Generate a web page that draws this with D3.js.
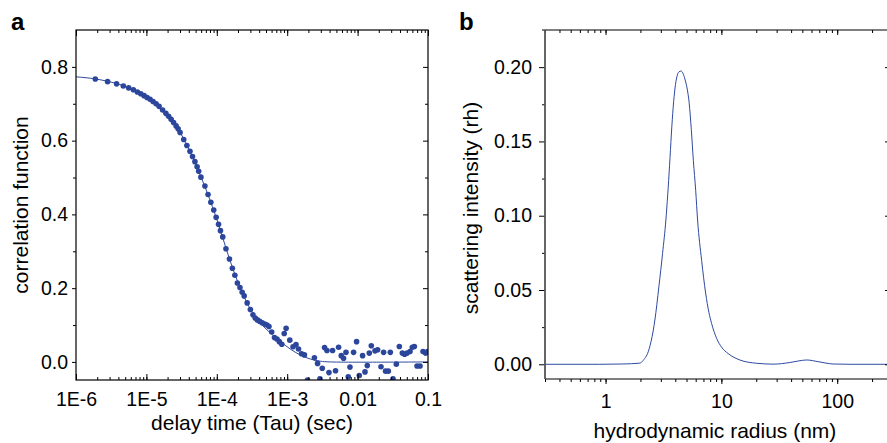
<!DOCTYPE html>
<html>
<head>
<meta charset="utf-8">
<script src="https://cdn.jsdelivr.net/npm/d3@7"></script>
<style>
  body { margin: 0; background: #fff; }
  svg { display: block; font-family: "Liberation Sans", Arial, Helvetica, sans-serif; }
  .tick text { font-size: 19.5px; fill: #000; }
  .title { font-size: 21px; fill: #000; }
  .panel { font-size: 24px; font-weight: bold; }
</style>
</head>
<body>
<div id="chart"></div>
<script>
var width = 887;
var height = 443;
var dotColor = "#2c469b";
var lineColor = "#2e4aa0";

// panel a: measured correlation function
var tauA = [1.88e-6, 2.81e-6, 3.77e-6, 4.70e-6, 5.60e-6, 6.53e-6, 7.44e-6, 8.32e-6, 9.27e-6, 1.022e-5,
  1.128e-5, 1.244e-5, 1.373e-5, 1.514e-5, 1.698e-5, 1.891e-5, 2.066e-5, 2.243e-5, 2.433e-5, 2.642e-5,
  2.82e-5, 3.01e-5, 3.39e-5, 3.76e-5, 4.16e-5, 4.52e-5, 4.89e-5, 5.25e-5, 5.53e-5, 5.95e-5,
  6.78e-5, 7.51e-5, 8.23e-5, 9.05e-5, 9.79e-5, 1.059e-4, 1.127e-4, 1.215e-4, 1.349e-4, 1.512e-4,
  1.663e-4, 1.805e-4, 1.959e-4, 2.133e-4, 2.293e-4, 2.447e-4, 2.70e-4, 3.00e-4, 3.265e-4, 3.51e-4,
  3.77e-4, 4.06e-4, 4.41e-4, 4.79e-4, 5.16e-4, 5.51e-4, 6.02e-4, 6.60e-4, 7.16e-4, 7.72e-4,
  8.38e-4, 9.07e-4, 9.65e-4, 1.089e-3, 1.21e-3, 1.334e-3, 1.448e-3, 1.597e-3, 1.757e-3, 1.944e-3,
  2.436e-3, 2.70e-3, 2.918e-3, 3.148e-3, 3.393e-3, 3.67e-3, 3.918e-3, 4.41e-3, 4.86e-3, 5.37e-3,
  5.86e-3, 6.32e-3, 6.84e-3, 7.37e-3, 7.79e-3, 8.77e-3, 9.67e-3, 1.057e-2, 1.177e-2, 1.274e-2,
  1.373e-2, 1.466e-2, 1.565e-2, 1.767e-2, 1.924e-2, 2.150e-2, 2.341e-2, 2.499e-2, 2.730e-2, 2.916e-2,
  3.184e-2, 3.548e-2, 3.914e-2, 4.318e-2, 4.656e-2, 5.036e-2, 5.556e-2, 5.99e-2, 6.40e-2, 6.99e-2,
  7.71e-2, 8.50e-2, 9.26e-2, 9.89e-2];
var corrA = [0.767, 0.760, 0.754, 0.748, 0.743, 0.738, 0.732, 0.727, 0.722, 0.717,
  0.712, 0.706, 0.700, 0.693, 0.683, 0.674, 0.666, 0.658, 0.649, 0.640,
  0.632, 0.622, 0.603, 0.587, 0.571, 0.557, 0.543, 0.529, 0.517, 0.501,
  0.477, 0.454, 0.433, 0.412, 0.392, 0.373, 0.356, 0.339, 0.307, 0.279,
  0.254, 0.235, 0.214, 0.202, 0.189, 0.179, 0.160, 0.142, 0.128, 0.119,
  0.114, 0.110, 0.106, 0.103, 0.100, 0.096, 0.081, 0.066, 0.062, 0.055,
  0.048, 0.077, 0.091, 0.059, 0.041, 0.047, 0.035, 0.022, 0.019, -0.049,
  0.011, -0.004, -0.046, -0.017, 0.039, 0.031, -0.029, 0.031, -0.024, 0.040,
  0.017, 0.010, 0.026, -0.040, -0.014, 0.026, 0.055, -0.037, 0.017, -0.027,
  -0.010, 0.024, 0.044, 0.030, 0.033, -0.013, 0.026, -0.025, -0.025, 0.026,
  -0.046, -0.006, 0.042, 0.024, 0.021, 0.024, 0.028, 0.040, 0.042, -0.011,
  -0.011, 0.028, 0.024, 0.028];

// panel a: fitted curve
var fitTau = [1e-6, 1.86e-6, 4.22e-6, 8.13e-6, 1.564e-5, 3.01e-5, 5.80e-5, 9.79e-5, 1.547e-4, 2.147e-4,
  2.98e-4, 4.13e-4, 5.73e-4, 7.95e-4, 1.104e-3, 1.531e-3, 2.124e-3, 2.946e-3, 4.09e-3, 0.1];
var fitCorr = [0.773, 0.7675, 0.752, 0.728, 0.690, 0.622, 0.507, 0.392, 0.274, 0.201,
  0.144, 0.106, 0.079, 0.056, 0.035, 0.019, 0.008, 0.002, 0.0, 0.0];

// panel b: size distribution
var radiusB = [0.3, 0.893, 1.41, 1.978, 2.112, 2.38, 2.576, 2.666, 2.886, 3.107,
  3.317, 3.44, 3.57, 3.7, 3.836, 3.98, 4.128, 4.3, 4.47, 4.65,
  4.84, 5.05, 5.27, 5.5, 5.73, 6.0, 6.23, 6.75, 7.31, 7.8,
  8.23, 9.09, 10.04, 11.45, 14.44, 20.1, 28.0, 39.0, 46.0, 54.4,
  68.1, 80.0, 91.8, 128.8, 300];
var intensityB = [0, 0, 0.0002, 0.0008, 0.0026, 0.0104, 0.0224, 0.0298, 0.0522, 0.0747,
  0.0971, 0.114, 0.134, 0.155, 0.173, 0.186, 0.1935, 0.1968, 0.1974, 0.196,
  0.192, 0.186, 0.176, 0.158, 0.137, 0.117, 0.0971, 0.070, 0.048, 0.035,
  0.0275, 0.0175, 0.0115, 0.0072, 0.0029, 0.0007, 0.0001, 0.0012, 0.0022, 0.0029,
  0.0018, 0.0008, 0.0002, 0, 0];

var xLabelsA = ["1E-6", "1E-5", "1E-4", "1E-3", "0.01", "0.1"];
var xTicksA = [1e-6, 1e-5, 1e-4, 1e-3, 0.01, 0.1];
var yTicksA = [0, 0.2, 0.4, 0.6, 0.8];
var xTicksB = [1, 10, 100];
var yTicksB = [0, 0.05, 0.1, 0.15, 0.2];

var svg = d3.select("#chart").append("svg")
  .attr("width", width)
  .attr("height", height);

// log minor ticks
function minorLog(lo, hi) {
  var out = [];
  for (var e = Math.floor(Math.log10(lo)); e <= Math.ceil(Math.log10(hi)); e++) {
    for (var m = 1; m < 10; m++) {
      var v = m * Math.pow(10, e);
      if (v >= lo * 0.999 && v <= hi * 1.001) out.push(v);
    }
  }
  return out;
}

function styleAxis(g) {
  g.select(".domain").remove();
  g.selectAll(".tick line").attr("stroke", "#000").attr("stroke-width", 1);
}

/* ---------------- panel a ---------------- */
var xA = d3.scaleLog().domain([1e-6, 0.1]).range([76, 428]);
var yA = d3.scaleLinear().domain([-0.049, 0.9]).range([380, 30]);

svg.append("clipPath").attr("id", "clipA")
  .append("rect").attr("x", 76).attr("y", 30).attr("width", 352).attr("height", 350);

var plotA = svg.append("g").attr("clip-path", "url(#clipA)");

plotA.append("path")
  .datum(fitTau.map(function(t, i) { return [t, fitCorr[i]]; }))
  .attr("fill", "none")
  .attr("stroke", lineColor)
  .attr("stroke-width", 1)
  .attr("d", d3.line()
    .x(function(d) { return xA(d[0]); })
    .y(function(d) { return yA(d[1]); })
    .curve(d3.curveCatmullRom.alpha(0.5)));

plotA.selectAll("circle")
  .data(tauA.map(function(t, i) { return [t, corrA[i]]; }))
  .enter()
  .append("circle")
  .attr("cx", function(d) { return xA(d[0]); })
  .attr("cy", function(d) { return yA(d[1]); })
  .attr("r", 2.8)
  .attr("fill", dotColor);

// bottom (inward)
svg.append("g").attr("transform", "translate(0,380)")
  .call(d3.axisBottom(xA).tickValues(minorLog(1e-6, 0.1)).tickFormat("").tickSize(-3))
  .call(styleAxis);
svg.append("g").attr("transform", "translate(0,380)")
  .call(d3.axisBottom(xA).tickValues(xTicksA).tickSize(-6).tickPadding(12)
    .tickFormat(function(d, i) { return xLabelsA[i]; }))
  .call(styleAxis);
// top (inward)
svg.append("g").attr("transform", "translate(0,30)")
  .call(d3.axisTop(xA).tickValues(minorLog(1e-6, 0.1)).tickFormat("").tickSize(-3))
  .call(styleAxis);
svg.append("g").attr("transform", "translate(0,30)")
  .call(d3.axisTop(xA).tickValues(xTicksA).tickFormat("").tickSize(-6))
  .call(styleAxis);
// left (outward)
svg.append("g").attr("transform", "translate(76,0)")
  .call(d3.axisLeft(yA).tickValues([0.1, 0.3, 0.5, 0.7]).tickFormat("").tickSize(3))
  .call(styleAxis);
svg.append("g").attr("transform", "translate(76,0)")
  .call(d3.axisLeft(yA).tickValues(yTicksA).tickSize(4).tickPadding(4).tickFormat(d3.format(".1f")))
  .call(styleAxis);
// right (inward)
svg.append("g").attr("transform", "translate(428,0)")
  .call(d3.axisRight(yA).tickValues([0.1, 0.3, 0.5, 0.7]).tickFormat("").tickSize(-3))
  .call(styleAxis);
svg.append("g").attr("transform", "translate(428,0)")
  .call(d3.axisRight(yA).tickValues(yTicksA).tickFormat("").tickSize(-5))
  .call(styleAxis);

svg.append("rect")
  .attr("x", 76).attr("y", 30).attr("width", 352).attr("height", 350)
  .attr("fill", "none").attr("stroke", "#000").attr("stroke-width", 1.2);

svg.append("text").attr("class", "title")
  .attr("x", 252).attr("y", 430)
  .attr("text-anchor", "middle")
  .text("delay time (Tau) (sec)");

svg.append("text").attr("class", "title")
  .attr("transform", "translate(28,205) rotate(-90)")
  .attr("text-anchor", "middle")
  .text("correlation function");

svg.append("text").attr("class", "panel")
  .attr("x", 11).attr("y", 30)
  .text("a");

/* ---------------- panel b ---------------- */
var xB = d3.scaleLog().domain([0.3, 280]).range([545, 889]);
var yB = d3.scaleLinear().domain([-0.0099, 0.225]).range([379, 30]);

svg.append("clipPath").attr("id", "clipB")
  .append("rect").attr("x", 545).attr("y", 30).attr("width", 344).attr("height", 349);

svg.append("g").attr("clip-path", "url(#clipB)")
  .append("path")
  .datum(radiusB.map(function(r, i) { return [r, intensityB[i]]; }))
  .attr("fill", "none")
  .attr("stroke", lineColor)
  .attr("stroke-width", 1)
  .attr("d", d3.line()
    .x(function(d) { return xB(d[0]); })
    .y(function(d) { return yB(d[1]); })
    .curve(d3.curveMonotoneX));

// bottom (outward)
svg.append("g").attr("transform", "translate(0,379)")
  .call(d3.axisBottom(xB).tickValues(minorLog(0.3, 280)).tickFormat("").tickSize(3))
  .call(styleAxis);
svg.append("g").attr("transform", "translate(0,379)")
  .call(d3.axisBottom(xB).tickValues(xTicksB).tickSize(5).tickPadding(10).tickFormat(d3.format("d")))
  .call(styleAxis);
// top (inward)
svg.append("g").attr("transform", "translate(0,30)")
  .call(d3.axisTop(xB).tickValues(minorLog(0.3, 280)).tickFormat("").tickSize(-3))
  .call(styleAxis);
svg.append("g").attr("transform", "translate(0,30)")
  .call(d3.axisTop(xB).tickValues(xTicksB).tickFormat("").tickSize(-5))
  .call(styleAxis);
// left (outward)
svg.append("g").attr("transform", "translate(545,0)")
  .call(d3.axisLeft(yB).tickValues([0.025, 0.075, 0.125, 0.175]).tickFormat("").tickSize(3))
  .call(styleAxis);
svg.append("g").attr("transform", "translate(545,0)")
  .call(d3.axisLeft(yB).tickValues(yTicksB).tickSize(6).tickPadding(7).tickFormat(d3.format(".2f")))
  .call(styleAxis);
// right (inward)
svg.append("g").attr("transform", "translate(889,0)")
  .call(d3.axisRight(yB).tickValues(yTicksB).tickFormat("").tickSize(-4))
  .call(styleAxis);

svg.append("line")
  .attr("x1", 542).attr("x2", 889).attr("y1", 30).attr("y2", 30)
  .attr("stroke", "#000").attr("stroke-width", 1.2);
svg.append("line")
  .attr("x1", 545).attr("x2", 889).attr("y1", 379).attr("y2", 379)
  .attr("stroke", "#000").attr("stroke-width", 1.2);
svg.append("line")
  .attr("x1", 545).attr("x2", 545).attr("y1", 30).attr("y2", 379)
  .attr("stroke", "#555").attr("stroke-width", 1.8);

svg.append("text").attr("class", "title")
  .attr("x", 715).attr("y", 438)
  .attr("text-anchor", "middle")
  .text("hydrodynamic radius (nm)");

svg.append("text").attr("class", "title")
  .attr("transform", "translate(478,208) rotate(-90)")
  .attr("text-anchor", "middle")
  .text("scattering intensity (rh)");

svg.append("text").attr("class", "panel")
  .attr("x", 459).attr("y", 30)
  .text("b");
</script>
</body>
</html>
